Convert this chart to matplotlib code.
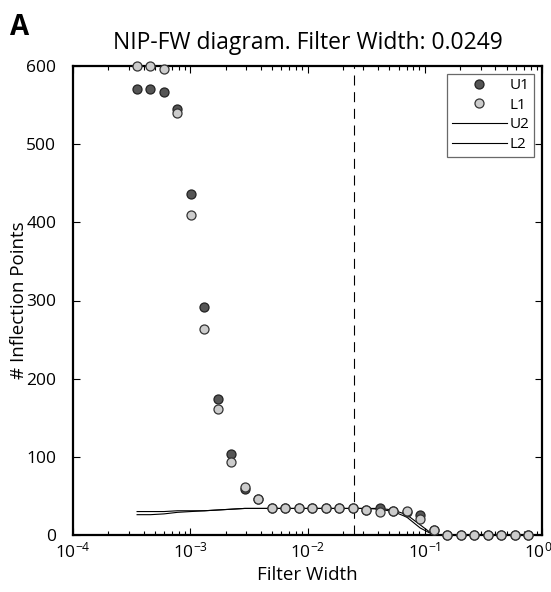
import numpy as np
import matplotlib
matplotlib.use("Agg")
import matplotlib.pyplot as plt
from matplotlib.ticker import LogLocator, NullFormatter, FixedLocator
from matplotlib.transforms import ScaledTranslation

plt.rcParams['font.family'] = ['Open Sans', 'DejaVu Sans']
plt.rcParams['mathtext.fontset'] = 'custom'
plt.rcParams['mathtext.rm'] = 'Open Sans'
plt.rcParams['mathtext.it'] = 'Open Sans'

# filter widths
filterWidth = [3.52e-4, 4.58e-4, 5.97e-4, 7.78e-4, 1.01e-3, 1.32e-3, 1.72e-3, 2.24e-3,
               2.92e-3, 3.81e-3, 4.97e-3, 6.47e-3, 8.43e-3, 0.0110, 0.0143, 0.0187,
               0.0243, 0.0317, 0.0413, 0.0538, 0.0701, 0.0914, 0.119, 0.155,
               0.202, 0.264, 0.344, 0.448, 0.583, 0.760]

u1 = [570, 570, 567, 545, 436, 292, 174, 104, 59, 46, 35, 35, 35, 35, 35, 35,
      35, 32, 34, 31, 30, 25, 7, 0, 0, 0, 0, 0, 0, 0]
l1 = [600, 600, 596, 540, 410, 263, 161, 93, 62, 46, 35, 35, 34, 35, 35, 35,
      35, 32, 30, 31, 31, 21, 7, 0, 0, 0, 0, 0, 0, 0]
u2 = [30, 30, 30, 31, 31, 31, 32, 33, 34, 34, 34, 34, 34, 34, 34, 34,
      34, 34, 34, 32, 26, 13, 0, 0, 0, 0, 0, 0, 0, 0]
l2 = [26, 26, 27, 29, 30, 31, 32, 33, 34, 34, 34, 34, 34, 34, 34, 34,
      34, 34, 33, 30, 23, 9, 0, 0, 0, 0, 0, 0, 0, 0]

chosenWidth = 0.0249

px = 1/100.
fig = plt.figure(figsize=(551*px, 592*px), dpi=100)
ax = fig.add_axes([73/551, 57/592, 469/551, 469/592])

ax.plot(filterWidth, u2, '-', color='k', lw=0.8, label='U2', zorder=2)
ax.plot(filterWidth, l2, '-', color='k', lw=0.8, label='L2', zorder=2)
ax.plot(filterWidth, u1, 'o', ms=6.5, mfc='#555555', mec='#222222', mew=0.9,
        label='U1', clip_on=False, zorder=3)
ax.plot(filterWidth, l1, 'o', ms=6.5, mfc='#cccccc', mec='#333333', mew=0.9,
        label='L1', clip_on=False, zorder=4)
ax.axvline(chosenWidth, color='k', lw=0.8, dashes=(9, 6), zorder=1)

ax.set_xscale('log')
ax.set_xlim(1e-4, 1)
ax.set_ylim(0, 600)
ax.xaxis.set_major_locator(FixedLocator([1e-4, 1e-3, 1e-2, 1e-1, 1]))
ax.xaxis.set_minor_locator(LogLocator(base=10, subs=np.arange(2, 10)))
ax.xaxis.set_minor_formatter(NullFormatter())
ax.set_xticklabels(['$10^{-4}$', '$10^{-3}$', '$10^{-2}$', '$10^{-1}$', '$10^{0}$'])
ax.set_yticks([0, 100, 200, 300, 400, 500, 600])
ax.tick_params(which='both', direction='in', top=True, right=True, labelsize=12.5, width=0.8)
ax.tick_params(which='major', length=5)
ax.tick_params(axis='x', which='major', pad=5)
ax.tick_params(axis='y', which='major', pad=12)
ax.tick_params(which='minor', length=3)
for s in ax.spines.values():
    s.set_linewidth(1.6)
# keep the last x label inside the canvas
lastLab = ax.get_xticklabels()[-1]
lastLab.set_transform(lastLab.get_transform() + ScaledTranslation(-4/100, 0, fig.dpi_scale_trans))

ax.set_xlabel('Filter Width', fontsize=13.5, labelpad=3)
ax.set_ylabel('# Inflection Points', fontsize=13.5)
ax.yaxis.set_label_coords(-0.095, 0.5)
ax.set_title('NIP-FW diagram. Filter Width: 0.0249', fontsize=16.5, pad=12)
fig.text(10/551, 1 - 35/592, 'A', fontsize=20, fontweight='bold')

h, lab = ax.get_legend_handles_labels()
order = [2, 3, 0, 1]
leg = ax.legend([h[i] for i in order], [lab[i] for i in order], loc='upper right',
                numpoints=1, fontsize=11, fancybox=False, edgecolor='#444444',
                handlelength=3.6, handletextpad=0.2, borderpad=0.3, labelspacing=0.3,
                borderaxespad=0.5, markerfirst=True)
leg.get_frame().set_linewidth(0.9)

fig.savefig('out.png', dpi=100)
